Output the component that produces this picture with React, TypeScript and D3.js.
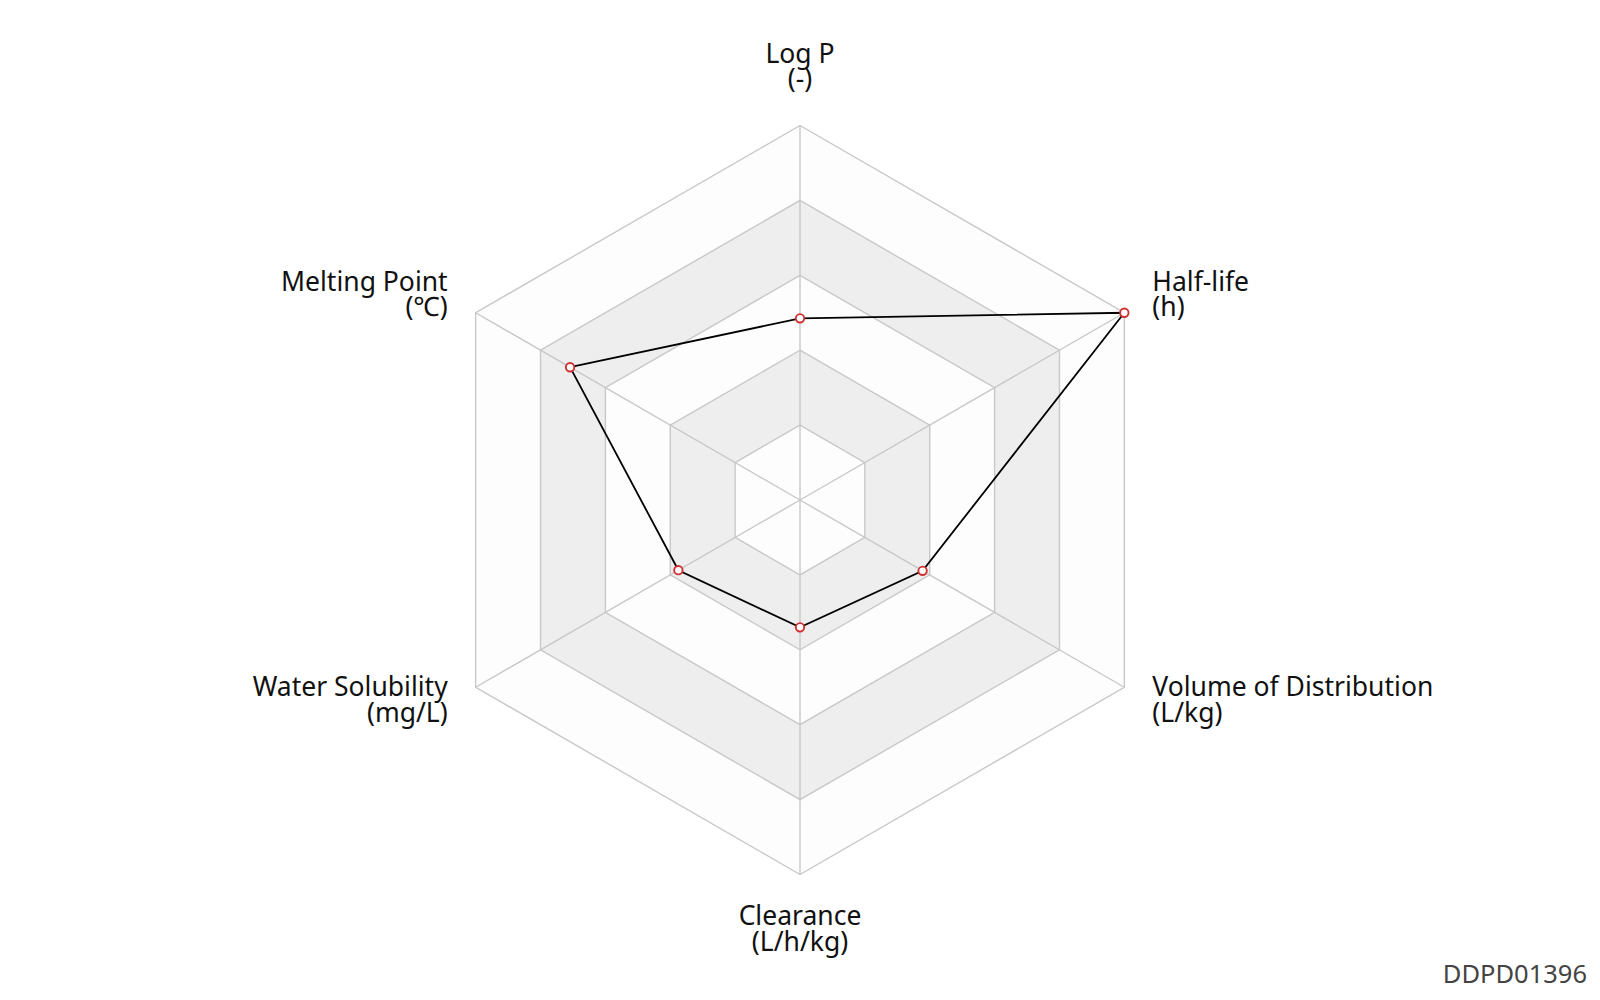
import React from "react";
import * as d3 from "d3";

const axisNames = ["Log P", "Half-life", "Volume of Distribution", "Clearance", "Water Solubility", "Melting Point"];
const axisUnits = ["(-)", "(h)", "(L/kg)", "(L/h/kg)", "(mg/L)", "(℃)"];
const values = [0.485, 1.0, 0.378, 0.34, 0.375, 0.709];
const ringLevels = [0.2, 0.4, 0.6, 0.8, 1.0];
const watermark = "DDPD01396";

const W = 1600;
const H = 1000;
const cx = 800;
const cy = 500;
const R = 374.5;

export default function App() {
  const n = axisNames.length;
  const rScale = d3.scaleLinear().domain([0, 1]).range([0, R]);
  const angle = (i: number) => (i * 2 * Math.PI) / n;
  const pt = (i: number, v: number): [number, number] => {
    const a = angle(i);
    const r = rScale(v);
    return [cx + r * Math.sin(a), cy - r * Math.cos(a)];
  };
  const line = d3.line<[number, number]>().curve(d3.curveLinearClosed);
  const ringPath = (v: number) => line(d3.range(n).map((i) => pt(i, v))) as string;

  const ringFills = ["#fdfdfd", "#eeeeee"];
  const rings = ringLevels.map((lv, k) => {
    const inner = k === 0 ? 0 : ringLevels[k - 1];
    const outer = ringPath(lv);
    const innerP = inner > 0 ? ringPath(inner) : "";
    return { d: outer + innerP, fill: ringFills[k % 2] };
  });

  const dataPts = values.map((v, i) => pt(i, v));

  const labels = axisNames.map((name, i) => {
    const a = angle(i);
    const s = Math.sin(a);
    const c = Math.cos(a);
    const [vx, vy] = pt(i, 1);
    let anchor: "start" | "middle" | "end" = "middle";
    let x = vx;
    let y1 = vy;
    if (Math.abs(s) < 0.01) {
      anchor = "middle";
      y1 = c > 0 ? vy - 63 : vy + 50.5;
    } else {
      anchor = s > 0 ? "start" : "end";
      x = vx + (s > 0 ? 28 : -28);
      y1 = c > 0 ? vy - 22 : vy + 9;
    }
    return { name, unit: axisUnits[i], x, y1, anchor };
  });

  const font = "'Noto Sans', 'Open Sans', sans-serif";

  return (
    <svg width={W} height={H} style={{ position: "absolute", left: 0, top: 0, background: "#fff" }}>
      <rect x={0} y={0} width={W} height={H} fill="#fff" />
      {rings.map((r, k) => (
        <path key={"ring" + k} d={r.d} fill={r.fill} fillRule="evenodd" stroke="none" />
      ))}
      {ringLevels.map((lv, k) => (
        <path key={"rl" + k} d={ringPath(lv)} fill="none" stroke="#c8c8c8" strokeWidth={1.4} />
      ))}
      {d3.range(n).map((i) => {
        const [x, y] = pt(i, 1);
        return <line key={"ax" + i} x1={cx} y1={cy} x2={x} y2={y} stroke="#c8c8c8" strokeWidth={1.4} />;
      })}
      <path d={line(dataPts) as string} fill="none" stroke="#000" strokeWidth={1.8} />
      {dataPts.map(([x, y], i) => (
        <circle key={"p" + i} cx={x} cy={y} r={4.2} fill="#fff" stroke="#d03030" strokeWidth={1.9} />
      ))}
      {labels.map((l, i) => (
        <text key={"lb" + i} x={l.x} y={l.y1} textAnchor={l.anchor} fontFamily={font} fontSize={26.5} fill="#111">
          <tspan x={l.x} y={l.y1}>{l.name}</tspan>
          <tspan x={l.x} y={l.y1 + 25.5}>{l.unit}</tspan>
        </text>
      ))}
      <text x={1587} y={983} textAnchor="end" fontFamily={font} fontSize={25.5} fill="#444">
        {watermark}
      </text>
    </svg>
  );
}
